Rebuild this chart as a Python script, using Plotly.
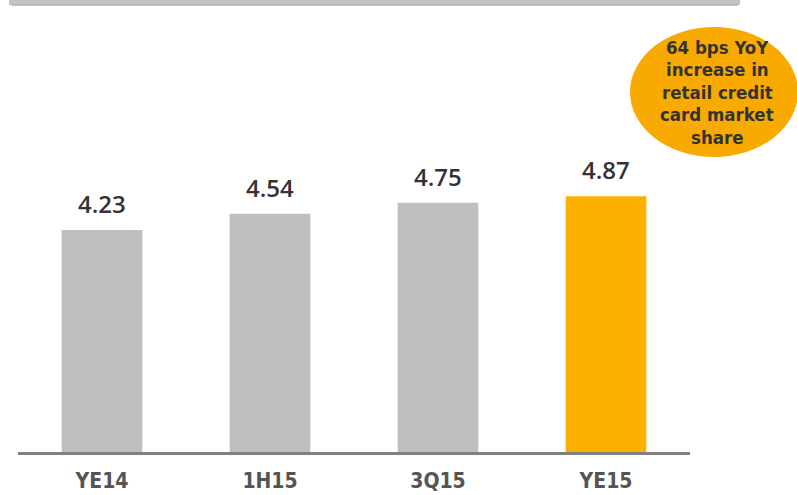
import plotly.graph_objects as go

categories = ["YE14", "1H15", "3Q15", "YE15"]
values = [4.23, 4.54, 4.75, 4.87]
value_labels = ["4.23", "4.54", "4.75", "4.87"]
bar_colors = ["#BFBFBF", "#BFBFBF", "#BFBFBF", "#FBB000"]
callout_lines = ["64 bps YoY", "increase in", "retail credit", "card market", "share"]

W, H = 797, 495
ML, MR, MT, MB = 18, 107, 40, 43
PW, PH = W - ML - MR, H - MT - MB
PX_PER_UNIT = 52.5
ymax = PH / PX_PER_UNIT

def px_x(px):
    return (px - ML) / PW

def px_y(py):
    return (H - MB - py) / PH

COND = "font-stretch:condensed"

fig = go.Figure()
fig.add_trace(go.Bar(
    x=categories, y=values,
    marker=dict(color=bar_colors, line=dict(width=0)),
    width=0.48, hoverinfo="skip",
))

for c, v, t in zip(categories, values, value_labels):
    fig.add_annotation(x=c, y=v, text=t, showarrow=False, yanchor="bottom",
                       yshift=8,
                       font=dict(family="Open Sans, sans-serif", size=24, color="#333333", weight=600))

# top grey strip
fig.add_shape(type="rect", xref="paper", yref="paper",
              x0=px_x(9), x1=px_x(740), y0=px_y(5), y1=px_y(-4),
              fillcolor="#C3C3C3", line=dict(width=0), layer="above")
fig.add_shape(type="line", xref="paper", yref="paper",
              x0=px_x(11), x1=px_x(738), y0=px_y(5), y1=px_y(5),
              line=dict(color="#B5B5B5", width=1.5), layer="above")

# callout ellipse
fig.add_shape(type="circle", xref="paper", yref="paper",
              x0=px_x(630), x1=px_x(798), y0=px_y(157), y1=px_y(27),
              fillcolor="#F8AA00", line=dict(width=0), layer="above")
for i, line in enumerate(callout_lines):
    fig.add_annotation(xref="paper", yref="paper", x=px_x(717), y=px_y(47 + 22.5 * i),
                       text=f'<span style="{COND}">{line}</span>', showarrow=False,
                       xanchor="center", yanchor="middle",
                       font=dict(family="DejaVu Sans", size=18.5, color="#333333", weight="bold"))

fig.update_layout(
    width=W, height=H,
    margin=dict(l=ML, r=MR, t=MT, b=MB, pad=0, autoexpand=False),
    paper_bgcolor="white", plot_bgcolor="white",
    showlegend=False,
    bargap=0.52,
    xaxis=dict(showline=True, linecolor="#808080", linewidth=2.5, ticks="",
               showgrid=False, zeroline=False, automargin=False,
               tickmode="array", tickvals=categories,
               ticktext=[f'<span style="{COND}">{c}</span>' for c in categories],
               tickfont=dict(family="DejaVu Sans", size=21, color="#555555", weight="bold"),
               ticklabelstandoff=8),
    yaxis=dict(range=[0, ymax], visible=False, showgrid=False, zeroline=False, automargin=False),
)

fig.write_html("out.html", config={"displayModeBar": False},
               post_script="document.body.style.margin='0';document.body.style.padding='0';")
